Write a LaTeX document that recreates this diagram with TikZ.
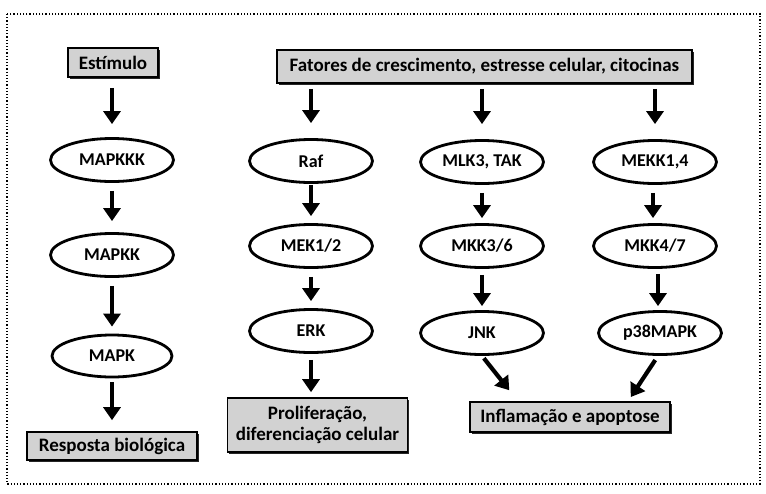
\documentclass[tikz,border=0pt]{standalone}
\usepackage{fontspec}
\setmainfont{Carlito}
\usetikzlibrary{shapes.geometric,arrows.meta,shadows}
\begin{document}
\begin{tikzpicture}[x=1pt,y=-1pt,
 ell/.style={ellipse,draw=black,line width=2.8pt,minimum width=123pt,minimum height=43pt,inner sep=0pt,font=\bfseries\fontsize{18}{20}\selectfont},
 gbox/.style={rectangle,draw=black,line width=1.6pt,fill=gray!35,inner sep=0pt,align=center,
   font=\bfseries\fontsize{19}{21}\selectfont,
   drop shadow={shadow xshift=1.6pt,shadow yshift=-1.6pt,fill=black!85,opacity=1}},
 arr/.style={line width=4.2pt,-{Triangle[width=17pt,length=13pt]}}]
\useasboundingbox (0,0) rectangle (766,493);
\draw[dotted,line width=1.2pt] (7,14) rectangle (760,484);
% column 1
\node[gbox,minimum width=90pt,minimum height=29pt] (est) at (113,62.5) {Estímulo};
\node[ell] (mkkk) at (112,160) {MAPKKK};
\node[ell] (mkk) at (112,255) {MAPKK};
\node[ell,minimum width=120pt,minimum height=42pt] (mk) at (112,356) {MAPK};
\node[gbox,minimum width=170pt,minimum height=28pt] (resp) at (112,446) {Resposta biológica};
% top box
\node[gbox,minimum width=415pt,minimum height=33pt] (fat) at (484.5,66.5) {Fatores de crescimento, estresse celular, citocinas};
% column 2
\node[ell] (raf) at (311,161) {Raf};
\node[ell] (mek) at (311,246) {MEK1/2};
\node[ell] (erk) at (311,331) {ERK};
\node[gbox,minimum width=180pt,minimum height=54pt] (prol) at (317.5,425) {Proliferação,\\diferenciação celular};
% column 3
\node[ell] (mlk) at (482,162) {MLK3, TAK};
\node[ell] (mkk36) at (482,246) {MKK3/6};
\node[ell] (jnk) at (482,333) {JNK};
% column 4
\node[ell] (mekk) at (655,162) {MEKK1,4};
\node[ell] (mkk47) at (655,246) {MKK4/7};
\node[ell] (p38) at (660,333) {p38MAPK};
\node[gbox,minimum width=200pt,minimum height=30pt] (infl) at (570,417) {Inflamação e apoptose};
% arrows
\draw[arr,shorten <=10pt,shorten >=13pt] (est.south -| mkkk.north) -- (mkkk.north);
\draw[arr,shorten <=8pt,shorten >=11pt] (mkkk.south) -- (mkk.north);
\draw[arr,shorten <=8pt,shorten >=7pt] (mkk.south) -- (mk.north);
\draw[arr,shorten <=4pt,shorten >=11pt] (mk.south) -- (resp.north);
\draw[arr,shorten <=5pt,shorten >=15pt] (fat.south -| raf.north) -- (raf.north);
\draw[arr,shorten <=5pt,shorten >=15pt] (fat.south -| mlk.north) -- (mlk.north);
\draw[arr,shorten <=5pt,shorten >=15pt] (fat.south -| mekk.north) -- (mekk.north);
\draw[arr,shorten <=1pt,shorten >=7pt] (raf.south) -- (mek.north);
\draw[arr,shorten <=8pt,shorten >=7pt] (mek.south) -- (erk.north);
\draw[arr,shorten <=6pt,shorten >=5pt] (erk.south) -- (prol.north -| erk.south);
\draw[arr,shorten <=8pt,shorten >=5pt] (mlk.south) -- (mkk36.north);
\draw[arr,shorten <=6pt,shorten >=4pt] (mkk36.south) -- (jnk.north);
\draw[arr,shorten <=8pt,shorten >=5pt] (mekk.south -| 653,0) -- (mkk47.north -| 653,0);
\draw[arr,shorten <=5pt,shorten >=4pt] (mkk47.south -| 658,0) -- (p38.north -| 658,0);
\draw[arr,shorten <=3pt,shorten >=14pt] (jnk.south) -- (infl.north -| 518,0);
\draw[arr,shorten <=5pt,shorten >=5pt] (p38.south -| 658,0) -- (infl.north -| 628,0);
\end{tikzpicture}
\end{document}
